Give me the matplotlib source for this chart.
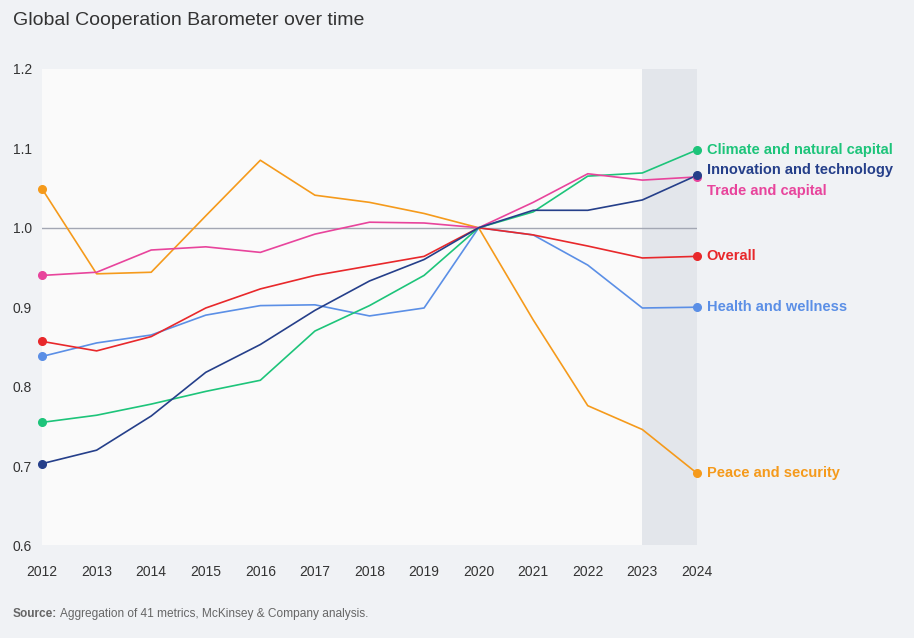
import matplotlib.pyplot as plt
import numpy as np

plt.rcParams["font.family"] = ["Liberation Sans", "DejaVu Sans"]

years = list(range(2012, 2025))
series_names = ["Climate and natural capital", "Innovation and technology", "Trade and capital",
                "Overall", "Health and wellness", "Peace and security"]
climate = [0.755, 0.764, 0.778, 0.794, 0.808, 0.870, 0.902, 0.940, 1.0, 1.020, 1.065, 1.069, 1.098]
innovation = [0.703, 0.720, 0.763, 0.818, 0.853, 0.896, 0.933, 0.960, 1.0, 1.022, 1.022, 1.035, 1.066]
trade = [0.940, 0.944, 0.972, 0.976, 0.969, 0.992, 1.007, 1.006, 1.0, 1.032, 1.068, 1.060, 1.064]
overall = [0.857, 0.845, 0.863, 0.899, 0.923, 0.940, 0.952, 0.964, 1.0, 0.991, 0.977, 0.962, 0.964]
health = [0.838, 0.855, 0.865, 0.890, 0.902, 0.903, 0.889, 0.899, 1.0, 0.991, 0.953, 0.899, 0.900]
peace = [1.049, 0.942, 0.944, 1.015, 1.085, 1.041, 1.032, 1.018, 1.0, 0.884, 0.776, 0.746, 0.691]
y_ticks = [0.6, 0.7, 0.8, 0.9, 1.0, 1.1, 1.2]

values = [climate, innovation, trade, overall, health, peace]
colors = ["#1dc47a", "#253f8a", "#e8449c", "#e8282b", "#5b8fe6", "#f59a1b"]
# vertical pixel nudges for the end labels (innovation/trade overlap)
label_dy = [0, 4, -10, 0, 0, 0]

bg = "#f0f2f5"
fig = plt.figure(figsize=(9.14, 6.38), dpi=100, facecolor=bg)
ax = fig.add_axes([0.046, 0.145, 0.7165, 0.747])
ax.set_facecolor("#fafafa")
ax.axvspan(2023, 2024, color="#e3e6eb", zorder=0, lw=0)
ax.axhline(1.0, color="#a3a7b3", lw=1, zorder=1)

# draw order: orange at back
order = [5, 4, 3, 0, 2, 1]
for i in order:
    ax.plot(years, values[i], color=colors[i], lw=1.2, zorder=2)
    ax.plot([years[0], years[-1]], [values[i][0], values[i][-1]], "o",
            color=colors[i], ms=5.5, zorder=3, clip_on=False)

for i, name in enumerate(series_names):
    ax.annotate(name, (years[-1], values[i][-1]), xytext=(7, label_dy[i]),
                textcoords="offset points", va="center", ha="left",
                color=colors[i], fontsize=10.5, fontweight="bold", annotation_clip=False)

ax.set_xlim(2012, 2024)
ax.set_ylim(0.6, 1.2)
ax.set_xticks(years)
ax.set_xticklabels([str(y) for y in years])
ax.set_yticks(y_ticks)
ax.set_yticklabels([f"{t:.1f}" for t in y_ticks], ha="left")
ax.tick_params(axis="both", length=0, colors="#333333", labelsize=10)
ax.tick_params(axis="y", pad=21)
ax.tick_params(axis="x", pad=14)
for s in ax.spines.values():
    s.set_visible(False)

fig.text(0.014, 0.968, "Global Cooperation Barometer over time", fontsize=14,
         color="#333333", va="center")

src = fig.text(0.014, 0.037, "Source:", fontsize=8.6, fontweight="bold", color="#666666", va="center")
fig.canvas.draw()
bb = src.get_window_extent(fig.canvas.get_renderer())
fig.text(bb.x1 / fig.bbox.width + 0.003, 0.037, "Aggregation of 41 metrics, McKinsey & Company analysis.",
         fontsize=8.6, color="#666666", va="center")

fig.savefig("out.png", dpi=100, facecolor=bg)
